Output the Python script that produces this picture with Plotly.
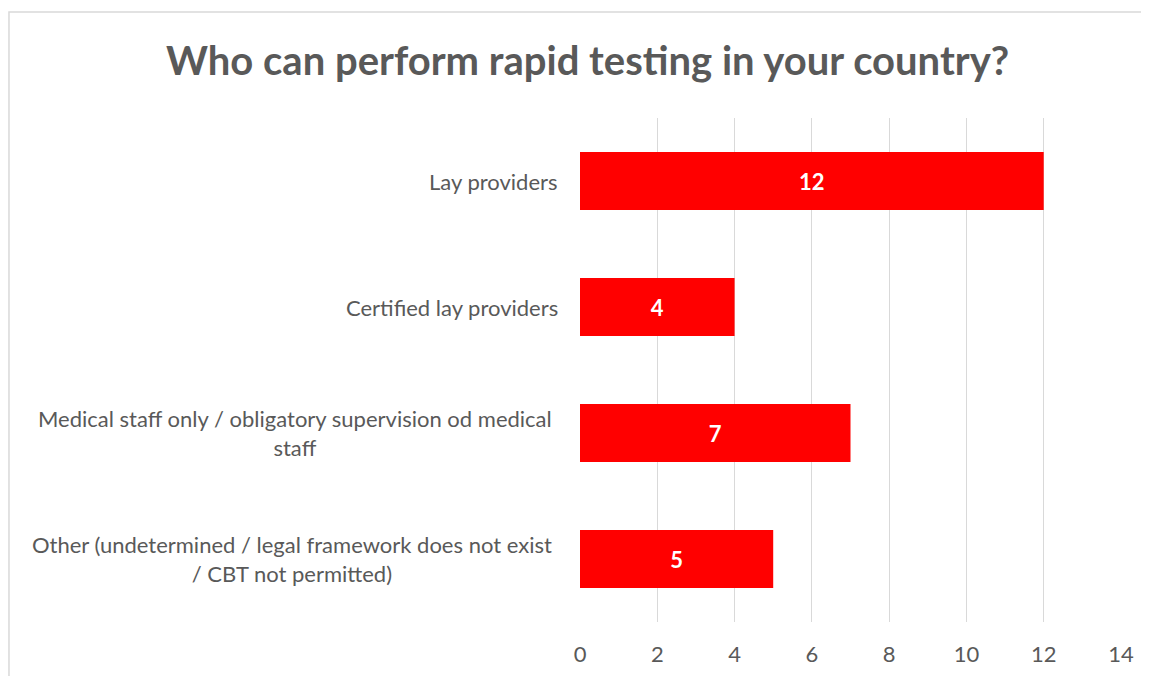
import plotly.graph_objects as go

categories = [
    "Lay providers",
    "Certified lay providers",
    "Medical staff only / obligatory supervision od medical<br>staff",
    "Other (undetermined / legal framework does not exist<br>/ CBT not permitted)",
]
values = [12, 4, 7, 5]
tick_vals = [0, 2, 4, 6, 8, 10, 12, 14]

FONT = "Lato, Open Sans, sans-serif"
GRAY = "#595959"

fig = go.Figure()
fig.add_trace(go.Bar(
    y=categories, x=values, orientation="h",
    marker=dict(color="#ff0000", line=dict(width=0)),
    width=0.46,
    text=[str(v) for v in values], textposition="inside", insidetextanchor="middle",
    textfont=dict(family=FONT, size=22, color="white", weight="bold"),
))

for c in categories:
    multi = "<br>" in c
    fig.add_annotation(
        xref="paper", yref="y", x=0, y=c, xanchor="right", yanchor="middle",
        xshift=-26 if multi else -20, text=c, showarrow=False, align="center",
        font=dict(family=FONT, size=22, color=GRAY),
    )

fig.add_shape(type="rect", xref="paper", yref="paper",
              x0=-1.0555, x1=1.3, y0=-0.4, y1=1.2103,
              line=dict(color="#d9d9d9", width=1.5), fillcolor="rgba(0,0,0,0)", layer="below")

fig.update_layout(
    width=1141, height=668,
    margin=dict(l=572, r=28, t=110, b=54, autoexpand=False),
    paper_bgcolor="white", plot_bgcolor="white",
    showlegend=False,
    title=dict(text="<b>Who can perform rapid testing in your country?</b>",
               x=0.508, xanchor="center", y=0.92, yanchor="middle",
               font=dict(family=FONT, size=40, color=GRAY)),
    xaxis=dict(range=[0, 14], tickvals=tick_vals, showgrid=True, gridcolor="#d9d9d9", gridwidth=1.3,
               zeroline=False, showline=False, ticks="", ticklabelstandoff=17, automargin=False,
               tickfont=dict(family=FONT, size=22, color=GRAY)),
    yaxis=dict(categoryorder="array", categoryarray=categories[::-1], range=[-0.5, 3.5],
               automargin=False,
               showticklabels=False, showgrid=False, zeroline=False, showline=False),
)

fig.write_html("out.html")
